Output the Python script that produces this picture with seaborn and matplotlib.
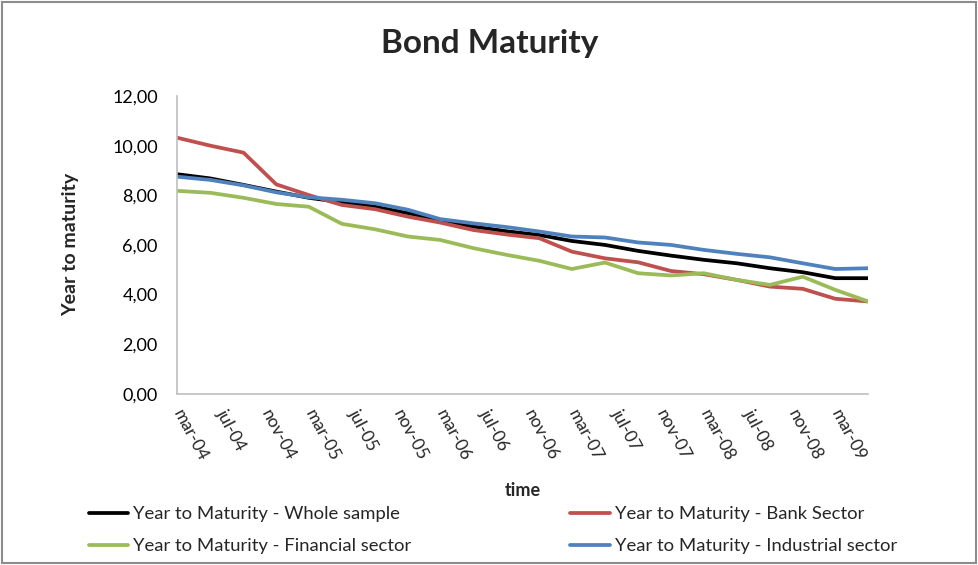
import pandas as pd
import seaborn as sns
import matplotlib.pyplot as plt
import matplotlib.dates as mdates
from matplotlib.patches import Rectangle
from matplotlib.ticker import FuncFormatter

# Quarterly observations, mar-04 .. jun-09
dates = pd.date_range('2004-03-01', '2009-06-01', freq='3MS')

whole = [8.85, 8.68, 8.42, 8.15, 7.90, 7.72, 7.54, 7.28, 7.00, 6.74, 6.55,
         6.40, 6.16, 6.00, 5.76, 5.57, 5.40, 5.26, 5.06, 4.90, 4.66, 4.66]
bank = [10.32, 10.00, 9.72, 8.44, 8.01, 7.61, 7.44, 7.14, 6.90, 6.60, 6.42,
        6.27, 5.73, 5.46, 5.30, 4.95, 4.82, 4.59, 4.32, 4.23, 3.83, 3.72]
financial = [8.18, 8.10, 7.90, 7.65, 7.54, 6.85, 6.63, 6.34, 6.20, 5.87, 5.60,
             5.36, 5.03, 5.29, 4.86, 4.77, 4.86, 4.59, 4.39, 4.72, 4.19, 3.72]
industrial = [8.75, 8.62, 8.40, 8.12, 7.92, 7.82, 7.68, 7.42, 7.04, 6.87, 6.72,
              6.54, 6.34, 6.30, 6.10, 6.00, 5.80, 5.64, 5.50, 5.26, 5.03, 5.06]

series_names = ['Year to Maturity - Whole sample',
                'Year to Maturity - Bank Sector',
                'Year to Maturity - Financial sector',
                'Year to Maturity - Industrial sector']
colors = ['#000000', '#C0504D', '#9BBB59', '#4F81BD']

# Long-form table for seaborn
df = pd.concat([
    pd.DataFrame({'time': dates, 'value': vals, 'series': name})
    for name, vals in zip(series_names, [whole, bank, financial, industrial])
])

sns.set_style('white')
plt.rcParams['font.family'] = ['Lato', 'DejaVu Sans']

fig = plt.figure(figsize=(9.79, 5.65), dpi=100)
ax = fig.add_axes([0.181, 0.303, 0.706, 0.527])

sns.lineplot(data=df, x='time', y='value', hue='series', hue_order=series_names,
             palette=colors, linewidth=2.7, ax=ax, legend=False)

# Axes styling, Excel-like
ax.set_ylim(0, 12)
ax.set_yticks(range(0, 13, 2))
ax.yaxis.set_major_formatter(FuncFormatter(lambda v, p: f'{v:.2f}'.replace('.', ',')))
ax.set_xlim(dates[0], dates[-1])
ax.xaxis.set_major_locator(mdates.MonthLocator(bymonth=[3, 7, 11]))
ax.xaxis.set_major_formatter(FuncFormatter(
    lambda v, p: mdates.num2date(v).strftime('%b-%y').lower()))
ax.tick_params(axis='y', length=0, labelsize=13, pad=14, colors='#000000')
ax.tick_params(axis='x', length=0, labelsize=12.5, pad=12)
for lbl in ax.get_xticklabels():
    lbl.set_rotation(-62)
    lbl.set_rotation_mode('anchor')
    lbl.set_ha('left')
    lbl.set_va('center')

sns.despine(ax=ax)
for side in ['left', 'bottom']:
    ax.spines[side].set_color('#BFBFBF')
    ax.spines[side].set_linewidth(1.2)

ax.set_xlabel('time', fontsize=13, fontweight='bold')
ax.set_ylabel('Year to maturity', fontsize=14, fontweight='bold')
ax.xaxis.set_label_coords(0.5, -0.296)
ax.yaxis.set_label_coords(-0.142, 0.5)
fig.suptitle('Bond Maturity', fontsize=24, fontweight='bold', x=0.5, y=0.948)

# Legend in two rows, below the plot
handles = ax.get_lines()
order = [0, 2, 1, 3]
ax.legend([handles[i] for i in order], [series_names[i] for i in order],
          ncol=2, frameon=False, fontsize=13.3, handlelength=2.15,
          handletextpad=0.25, columnspacing=8.6, labelspacing=0.85,
          loc='upper left', bbox_to_anchor=(-0.152, -0.322))

# Chart border
fig.patches.append(Rectangle((0.002, 0.004), 0.995, 0.993, transform=fig.transFigure,
                             fill=False, edgecolor='#8C8C8C', linewidth=1.5))

fig.savefig('out.png', dpi=100)
